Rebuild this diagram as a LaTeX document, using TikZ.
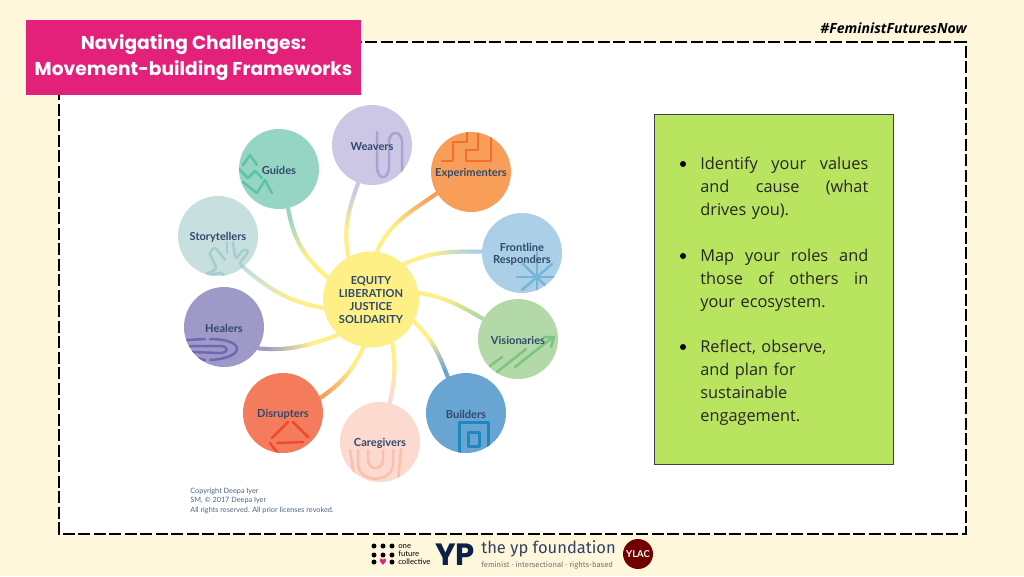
\documentclass[tikz,border=0pt]{standalone}
\usepackage{fontspec}
\usetikzlibrary{backgrounds}
\newfontfamily\titlefont{Poppins}
\newfontfamily\bodyfont{Open Sans}
\newfontfamily\labelfont{Lato}
\newfontfamily\logofont{Fira Sans}
\newfontfamily\symbolfont{DejaVu Sans}
\definecolor{cream}{HTML}{FEF7DC}
\definecolor{titlepink}{HTML}{E3207A}
\definecolor{boxgreen}{HTML}{B9E45F}
\definecolor{inktext}{HTML}{2F4A6C}
\definecolor{navy}{HTML}{0C2148}
\definecolor{hubyellow}{HTML}{FEEF87}
\definecolor{cweavers}{HTML}{CCC7E4}
\definecolor{cguides}{HTML}{96D4C4}
\definecolor{cexperimenters}{HTML}{F99E59}
\definecolor{cfrontline}{HTML}{ABCFE6}
\definecolor{cvisionaries}{HTML}{B2D9A7}
\definecolor{cbuilders}{HTML}{68A5D2}
\definecolor{ccaregivers}{HTML}{FDDACF}
\definecolor{cdisrupters}{HTML}{F47C5C}
\definecolor{chealers}{HTML}{9D9AC7}
\definecolor{cstorytellers}{HTML}{C7DFDF}
\definecolor{iweavers}{HTML}{A9A3D5}
\definecolor{iguides}{HTML}{5CC4A6}
\definecolor{iexperimenters}{HTML}{F26E2E}
\definecolor{ifrontline}{HTML}{75B5D8}
\definecolor{ivisionaries}{HTML}{7CC47F}
\definecolor{ibuilders}{HTML}{1F86BE}
\definecolor{icaregivers}{HTML}{FBBFB0}
\definecolor{idisrupters}{HTML}{F0492E}
\definecolor{ihealers}{HTML}{6F68B4}
\definecolor{istorytellers}{HTML}{A5CDCD}
\tikzset{
	petal/.style={circle,inner sep=0pt,minimum size=1.6cm},
	petaltext/.style={font=\labelfont\bfseries\fontsize{6.3}{7.2}\selectfont,text=inktext,align=center,inner sep=0pt},
	iconline/.style={line width=.05cm,line cap=round,line join=round},
	bullettext/.style={font=\bodyfont\fontsize{9.3}{13.04}\selectfont,text=black!85,text width=3.36cm,align=left,anchor=west,inner sep=0pt},
	logodot/.style={circle,fill=black,inner sep=0pt,minimum size=.1cm}
}
% one connector, cut in short pieces so that its colour can change along it
\newcommand{\spoke}[5]{
	\foreach \k in {0,...,24} {
		\path (#1) to[out=#3,in=#4] coordinate[pos=\k/24] (s\k) (#2);
	}
	\foreach \k in {1,...,24} {
		\pgfmathtruncatemacro{\prev}{\k-1}
		\pgfmathtruncatemacro{\pct}{max(0,100-(\k-3)*100/14)}
		\pgfmathtruncatemacro{\pct}{min(100,\pct)}
		\draw[line width=.08cm,line cap=round,draw={#5!\pct!hubyellow}] (s\prev) -- (s\k);
	}
}
\begin{document}
\begin{tikzpicture}[x=.02cm,y=.02cm]
	\useasboundingbox (0,0) rectangle (1024,-576);

	\node[fill=titlepink,minimum width=6.7cm,minimum height=1.5cm,inner sep=0pt,
		font=\titlefont\bfseries\fontsize{10.6}{14.7}\selectfont,text=white,align=center] (title) at (193.5,-57.5) {Navigating Challenges:\\Movement-building Frameworks};
	\node[anchor=east,inner sep=0pt,font=\bodyfont\bfseries\itshape\fontsize{8}{9}\selectfont] (hashtag) at (967,-28) {\#FeministFuturesNow};

	% wheel
	\node[circle,fill=hubyellow,inner sep=0pt,minimum size=1.92cm] (hub) at (371,-299.5) {};
	\foreach \name/\x/\y in {weavers/372/145,guides/279/169,experimenters/471/172,frontline/522/253,visionaries/518/339,builders/466/413,caregivers/380/442,disrupters/283/413,healers/224/327,storytellers/218/236} {
		\node[petal,fill=c\name] (\name) at (\x,-\y) {};
	}

	% page and connectors behind the circles
	\begin{scope}[on background layer]
		\fill[cream] (0,0) rectangle (1024,-576);
		\draw[fill=white,line width=.045cm,dash pattern=on .24cm off .07cm] (59,-42) rectangle (966,-534);
		\spoke{weavers.250}{hub.118}{-110}{100}{cweavers}
		\spoke{guides.-77}{hub.153}{-80}{140}{cguides}
		\spoke{experimenters.212}{hub.83}{215}{65}{cexperimenters}
		\spoke{frontline.178}{hub.47}{180}{25}{cfrontline}
		\spoke{visionaries.150}{hub.8}{150}{-10}{cvisionaries}
		\spoke{builders.117}{hub.-27}{110}{-45}{cbuilders}
		\spoke{caregivers.76}{hub.-64}{78}{-80}{ccaregivers}
		\spoke{disrupters.22}{hub.261}{35}{245}{cexperimenters}
		\spoke{healers.-32}{hub.227}{-5}{200}{chealers}
		\spoke{storytellers.-51}{hub.190}{-40}{170}{cstorytellers}
	\end{scope}

	% icons inside the circles
	\begin{scope}
		\clip (weavers) circle (.8cm);
		\draw[iconline,draw=iweavers] (377,-132) -- (377,-166) .. controls (377,-181) and (389,-181) .. (389,-166) -- (389,-142) .. controls (389,-130) and (402,-130) .. (402,-142) -- (402,-172);
	\end{scope}
	\begin{scope}
		\clip (guides) circle (.8cm);
		\draw[iconline,draw=iguides] (243,-165) -- (250,-155) -- (257,-165);
		\draw[iconline,draw=iguides] (239,-169) -- (248,-178) -- (255,-171) -- (262,-178);
		\draw[iconline,draw=iguides] (243,-182) -- (257,-193) -- (265,-180) -- (272,-193);
	\end{scope}
	\begin{scope}
		\clip (experimenters) circle (.8cm);
		\draw[iconline,draw=iexperimenters] (442,-161) -- (453,-161) -- (453,-142) -- (467,-142) -- (467,-130);
		\draw[iconline,draw=iexperimenters] (491,-130) -- (491,-161) -- (466,-161) -- (466,-150) -- (478,-150) -- (478,-130);
	\end{scope}
	\begin{scope}
		\clip (frontline) circle (.8cm);
		\foreach \ax/\ay/\bx/\by in {537/252/537/295,517/277/557/277,522/290/552/264,523/264/550/290} {
			\draw[iconline,draw=ifrontline] (\ax,-\ay) -- (\bx,-\by);
		}
	\end{scope}
	\begin{scope}
		\clip (visionaries) circle (.8cm);
		\draw[iconline,draw=ivisionaries] (490,-366) -- (502,-357);
		\draw[iconline,draw=ivisionaries] (497,-372) -- (526,-349);
		\draw[iconline,draw=ivisionaries] (515,-367) -- (553,-337);
		\draw[iconline,draw=ivisionaries] (544,-337) -- (554,-337) -- (551,-347);
	\end{scope}
	\begin{scope}
		\clip (builders) circle (.8cm);
		\draw[iconline,line width=.06cm,line cap=butt,draw=ibuilders] (459,-456) -- (459,-422) -- (488,-422) -- (488,-450);
		\draw[iconline,line width=.06cm,draw=ibuilders] (468,-432) rectangle (479,-446);
	\end{scope}
	\begin{scope}
		\clip (caregivers) circle (.8cm);
		\draw[iconline,draw=icaregivers] (368,-450) -- (368,-459) .. controls (368,-471) and (383,-471) .. (383,-459) -- (383,-450);
		\draw[iconline,draw=icaregivers] (358,-450) -- (358,-463) .. controls (358,-484) and (393,-484) .. (393,-463) -- (393,-450);
		\draw[iconline,draw=icaregivers] (350,-450) -- (355,-482);
		\draw[iconline,draw=icaregivers] (401,-449) -- (398,-482);
	\end{scope}
	\begin{scope}
		\clip (disrupters) circle (.8cm);
		\foreach \ax/\ay/\bx/\by in {272/438/288/422,293/422/308/437,277/443/303/442,270/443/280/456} {
			\draw[iconline,draw=idisrupters] (\ax,-\ay) -- (\bx,-\by);
		}
	\end{scope}
	\begin{scope}
		\clip (healers) circle (.8cm);
		\draw[iconline,draw=ihealers] (187,-340) -- (205,-339);
		\draw[iconline,draw=ihealers] (210,-339) .. controls (246,-339) and (246,-358) .. (210,-360);
		\draw[iconline,draw=ihealers] (190,-346) -- (220,-346) .. controls (229,-346) and (229,-353) .. (220,-353) -- (192,-352);
		\draw[iconline,draw=ihealers] (197,-358) -- (205,-360);
	\end{scope}
	\begin{scope}
		\clip (storytellers) circle (.8cm);
		\draw[iconline,draw=istorytellers] plot[smooth] coordinates {(206,-274) (216,-268) (210,-254) (215,-248) (222,-256) (225,-260)};
		\draw[iconline,draw=istorytellers] (227,-242) -- (227,-253);
		\draw[iconline,draw=istorytellers] plot[smooth] coordinates {(233,-242) (236,-258) (243,-250) (248,-252) (240,-263) (245,-268)};
		\draw[iconline,draw=istorytellers] plot[smooth] coordinates {(206,-276) (220,-273) (225,-277)};
	\end{scope}

	% labels on top of the icons
	\foreach \name/\txt in {weavers/Weavers,guides/Guides,experimenters/Experimenters,frontline/{Frontline\\Responders},visionaries/Visionaries,builders/Builders,caregivers/Caregivers,disrupters/Disrupters,healers/Healers,storytellers/Storytellers} {
		\node[petaltext,yshift=-.025cm] (\name label) at (\name) {\txt};
	}
	\node[font=\labelfont\bfseries\fontsize{6.3}{7.4}\selectfont,text=inktext,align=center,inner sep=0pt] (hubtext) at (hub) {EQUITY\\LIBERATION\\JUSTICE\\SOLIDARITY};
	\node[anchor=north west,inner sep=0pt,font=\labelfont\fontsize{4.15}{5.2}\selectfont,text=inktext!85,align=left] (copyright) at (190,-488) {Copyright Deepa Iyer\\SM, © 2017 Deepa Iyer\\All rights reserved. All prior licenses revoked.};

	% green box
	\node[draw=black!75,fill=boxgreen,line width=.02cm,inner sep=0pt,minimum width=4.8cm,minimum height=7.02cm] (greenbox) at (774,-289.5) {};
	\foreach \n/\y in {1/164,2/256,3/347} {
		\node[circle,fill=black,inner sep=0pt,minimum size=.12cm] (bullet\n) at (683,-\y) {};
	}
	\node[bullettext] (identify) at (700,-188.5) {Identify\hfill your\hfill values\\and\hfill cause\hfill (what\\drives you).};
	\node[bullettext] (map) at (700,-280.5) {Map\hfill your\hfill roles\hfill and\\those\hfill of\hfill others\hfill in\\your ecosystem.};
	\node[bullettext] (reflect) at (700,-383) {Reflect, observe,\\and plan for\\sustainable\\engagement.};

	% logos along the bottom
	\foreach \x/\y/\n in {374/546/a,383/546/b,392/546/c,374/555/d,383/555/e,392/555/f,374/562/g,392/562/i} {
		\node[logodot] (dot\n) at (\x,-\y) {};
	}
	\node[inner sep=0pt,text=titlepink,font=\symbolfont\fontsize{5}{5}\selectfont] (heart) at (383,-562) {♥};
	\node[anchor=west,inner sep=0pt,font=\labelfont\fontsize{4.4}{4.6}\selectfont,align=left] (onefuture) at (398,-554.5) {one\\future\\collective};
	\node[anchor=west,inner sep=0pt,text=navy,font=\titlefont\bfseries\fontsize{17.5}{18}\selectfont] (yp) at (435,-555) {YP};
	\node[anchor=west,inner sep=0pt,text=navy!85,font=\logofont\fontsize{9.4}{12}\selectfont] (ypname) at (481,-548.5) {the yp foundation};
	\node[anchor=west,inner sep=0pt,text=black!55,font=\logofont\fontsize{4.35}{6}\selectfont] (ypline) at (481,-565) {feminist · intersectional · rights-based};
	\node[circle,fill=red!45!black,text=white,inner sep=0pt,minimum size=.6cm,font=\labelfont\bfseries\fontsize{5.4}{6}\selectfont] (ylac) at (638,-554) {YLAC};
\end{tikzpicture}
\end{document}
